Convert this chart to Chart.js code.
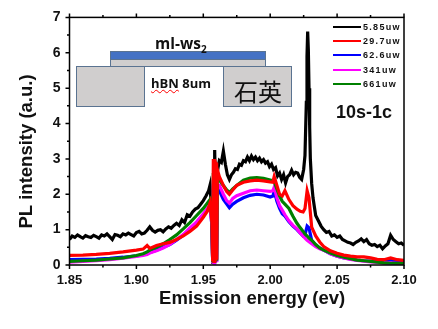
<!DOCTYPE html>
<html>
<head>
<meta charset="utf-8">
<script src="https://cdn.jsdelivr.net/npm/chart.js@4"></script>
<style>
    html, body { margin: 0; padding: 0; background: #fff; }
    #wrap { position: relative; width: 438px; height: 329px; overflow: hidden; font-family: "Liberation Sans", Arial, sans-serif; }
    #wrap canvas { position: absolute; left: 0; top: 0; }
    .block { position: absolute; box-sizing: border-box; background: #d0cece; border: 1.5px solid #5a7391; }
    .label { position: absolute; white-space: nowrap; color: #111; }
    .legend-line { position: absolute; left: 333px; width: 28px; height: 2px; }
    .legend-text { position: absolute; left: 363px; font-size: 9px; font-weight: bold; letter-spacing: 1.3px; line-height: 10px; color: #111; white-space: nowrap; }
</style>
</head>
<body>
<div id="wrap">
    <canvas id="plChart" width="438" height="329"></canvas>
    <div class="block" style="left:110px;top:51px;width:156px;height:9px;background:#4472c4;"></div>
    <div class="block" style="left:110px;top:59px;width:156px;height:8px;"></div>
    <div class="block" style="left:76px;top:66px;width:69px;height:41px;"></div>
    <div class="block" style="left:223px;top:66px;width:69px;height:41px;"></div>
    <div class="label" style="left:155px;top:32px;font:bold 15.5px 'Open Sans',sans-serif;">ml-ws<sub style="font-size:10px;line-height:0;">2</sub></div>
    <div class="label" style="left:151px;top:74px;font:bold 13px 'Open Sans',sans-serif;"><span style="text-decoration:underline wavy red 1px;">hBN</span> 8um</div>
    <div class="label" style="left:234px;top:73px;font:24px 'Noto Sans CJK SC',serif;">石英</div>
    <div class="label" style="left:336px;top:102px;font:bold 18px 'Liberation Sans',sans-serif;">10s-1c</div>
    <div id="legend"></div>
</div>
<script>
// power labels and colours, same order as the legend
const powerLabels = ['5.85uw', '29.7uw', '62.6uw', '341uw', '661uw'];
const powerColors = ['#000000', '#ff0000', '#0000ff', '#ff00ff', '#008000'];

const xTicks = [1.85, 1.90, 1.95, 2.00, 2.05, 2.10];
const yTicks = [0, 1, 2, 3, 4, 5, 6, 7];

// black curve has its own finer energy grid
const energyBlack = [
    1.85, 1.852, 1.854, 1.856, 1.858, 1.86, 1.862, 1.864, 1.866, 1.868,
    1.87, 1.872, 1.874, 1.876, 1.878, 1.88, 1.882, 1.884, 1.886, 1.888,
    1.89, 1.892, 1.894, 1.896, 1.898, 1.90, 1.902, 1.904, 1.906, 1.908,
    1.91, 1.912, 1.914, 1.916, 1.918, 1.92, 1.922, 1.924, 1.926, 1.928,
    1.93, 1.932, 1.934, 1.936, 1.938, 1.94, 1.942, 1.944, 1.946, 1.948, 1.95,
    1.952, 1.954, 1.955, 1.956, 1.9565, 1.957, 1.958, 1.9585, 1.959, 1.96,
    1.961, 1.962, 1.9635, 1.965, 1.9665, 1.968, 1.9695, 1.971, 1.9725, 1.974,
    1.9755, 1.977, 1.9785, 1.98, 1.9815, 1.983, 1.9845, 1.986, 1.9875, 1.989,
    1.9905, 1.992, 1.9935, 1.995, 1.9965, 1.998, 1.9995, 2.001, 2.0025, 2.004,
    2.0055, 2.007, 2.0085, 2.01, 2.0115, 2.013, 2.0145, 2.016, 2.0175, 2.019,
    2.0205, 2.022, 2.0235, 2.025, 2.026, 2.027, 2.0275, 2.028, 2.0285, 2.029,
    2.0295, 2.03, 2.031, 2.032, 2.033, 2.034, 2.036, 2.038, 2.04, 2.042,
    2.044, 2.046, 2.048, 2.05, 2.052, 2.054, 2.056, 2.058, 2.06, 2.062,
    2.064, 2.066, 2.068, 2.07, 2.072, 2.074, 2.076, 2.078, 2.08, 2.082,
    2.084, 2.086, 2.088, 2.09, 2.092, 2.094, 2.096, 2.098, 2.10
];
const power585 = [
    .72, .82, .78, .85, .8, .76, .83, .8, .78, .84,
    .8, .76, .85, .82, .88, .8, .72, .86, .84, .8,
    .88, .85, .9, .86, .82, .92, .95, .88, .9, .98,
    1.08, .98, .93, .98, 1.0, .94, 1.02, 1.08, 1.04, 1.12,
    1.18, 1.12, 1.28, 1.2, 1.42, 1.38, 1.5, 1.58, 1.62, 1.72, 1.82,
    1.95, 2.1, 2.25, 1.7, .9, .1, .12, 3.25, 2.3, 2.5,
    2.75, 2.95, 2.9, 3.22, 2.85, 2.55, 2.42, 2.55, 2.62, 2.72,
    2.7, 2.85, 2.82, 2.95, 2.92, 3.05, 2.95, 3.08, 2.98, 3.05,
    2.95, 3.02, 2.92, 2.98, 2.88, 2.92, 2.78, 2.85, 2.7, 2.75,
    2.52, 2.6, 2.42, 2.55, 2.32, 2.5, 2.55, 2.68, 2.55, 2.62,
    2.6, 2.48, 2.42, 2.7, 3.1, 4.6, 5.9, 6.6, 6.1, 5.0,
    3.9, 3.0, 2.3, 1.9, 1.65, 1.4, 1.25, 1.1, 1.0, .92,
    .95, .82, .85, .78, .82, .72, .68, .64, .62, .58,
    .64, .68, .74, .66, .72, .6, .56, .58, .52, .56,
    .46, .54, .6, .84, .72, .66, .6, .62, .56
];

// coarser grid shared by the other four curves
const energy = [
    1.85, 1.86, 1.87, 1.88, 1.89, 1.90, 1.905, 1.908, 1.91, 1.915,
    1.92, 1.925, 1.93, 1.935, 1.94, 1.945, 1.95, 1.953, 1.955, 1.9565,
    1.957, 1.9575, 1.958, 1.9585, 1.959, 1.9595, 1.96, 1.9605, 1.962, 1.965,
    1.9675, 1.9695, 1.972, 1.975, 1.98, 1.985, 1.99, 1.995, 2.00, 2.002,
    2.003, 2.005, 2.007, 2.009, 2.011, 2.014, 2.017, 2.02, 2.0225, 2.0246,
    2.026, 2.0276, 2.029, 2.031, 2.034, 2.037, 2.04, 2.045, 2.05, 2.055,
    2.06, 2.065, 2.07, 2.075, 2.08, 2.085, 2.09, 2.095, 2.10
];
const power297 = [
    .27, .28, .30, .33, .37, .42, .45, .55, .47, .55,
    .60, .64, .72, .82, .95, 1.10, 1.35, 1.52, 1.75, 1.2,
    .10, 3.0, .10, 3.0, .12, 2.9, .15, 2.7, 2.5, 2.25,
    2.08, 2.0, 2.12, 2.25, 2.34, 2.38, 2.4, 2.38, 2.35, 2.34,
    2.5, 2.25, 2.0, 1.95, 2.1, 1.85, 1.68, 1.58, 1.52, 1.5,
    1.6, 2.1, 1.9, 1.07, .82, .65, .52, .40, .33, .28,
    .25, .23, .23, .2, .16, .15, .2, .15, .13
];
const power626 = [
    .15, .16, .17, .19, .22, .26, .29, .32, .35, .42,
    .50, .58, .70, .84, 1.0, 1.18, 1.4, 1.55, 1.65, 1.1,
    .08, 2.3, .08, 2.3, .1, 2.2, .1, 2.15, 2.1, 1.85,
    1.72, 1.62, 1.72, 1.8, 1.9, 1.97, 2.0, 1.98, 1.92, 1.95,
    2.1, 1.8, 1.6, 1.45, 1.38, 1.22, 1.1, 1.0, .9, .82,
    .85, 1.1, 1.05, .7, .56, .48, .42, .32, .25, .2,
    .17, .14, .12, .11, .11, .1, .14, .1, .08
];
const power341 = [
    .08, .10, .12, .15, .19, .24, .27, .30, .34, .40,
    .48, .58, .72, .86, 1.05, 1.22, 1.45, 1.6, 1.7, 1.1,
    .05, 2.4, .05, 2.4, .08, 2.3, .08, 2.25, 2.25, 2.0,
    1.82, 1.75, 1.88, 1.96, 2.03, 2.1, 2.12, 2.1, 2.08, 2.1,
    2.2, 1.9, 1.68, 1.55, 1.42, 1.25, 1.12, 1.02, .9, .82,
    .76, .7, .66, .6, .52, .46, .42, .32, .25, .2,
    .16, .13, .11, .09, .07, .06, .06, .05, .05
];
const power661 = [
    .10, .12, .14, .17, .20, .27, .32, .37, .42, .50,
    .60, .72, .85, 1.02, 1.2, 1.4, 1.6, 1.75, 1.85, 1.3,
    .08, 2.6, .1, 2.6, .1, 2.5, .12, 2.4, 2.4, 2.25,
    2.12, 2.05, 2.15, 2.25, 2.4, 2.46, 2.47, 2.45, 2.4, 2.38,
    2.35, 2.15, 1.95, 1.8, 1.72, 1.6, 1.38, 1.18, 1.05, .95,
    .88, .82, .76, .70, .58, .48, .42, .34, .27, .22,
    .18, .14, .12, .10, .08, .06, .05, .05, .05
];

function toPoints(xs, ys) {
    return xs.map((x, i) => ({ x: x, y: ys[i] }));
}

// frame and the two-length ticks on all of bottom, left and top
const frameTicks = {
    id: 'frameTicks',
    afterDraw(chart) {
        const ctx = chart.ctx;
        const a = chart.chartArea;
        const xs = chart.scales.x;
        const ys = chart.scales.y;
        ctx.save();
        ctx.strokeStyle = '#000';
        ctx.lineWidth = 1.5;
        ctx.strokeRect(a.left, a.top, a.right - a.left, a.bottom - a.top);
        ctx.beginPath();
        for (let i = 0; i <= 10; i++) {
            const px = xs.getPixelForValue(1.85 + i * 0.025);
            const len = i % 2 === 0 ? 4 : 2.5;
            ctx.moveTo(px, a.bottom);
            ctx.lineTo(px, a.bottom + len);
            ctx.moveTo(px, a.top);
            ctx.lineTo(px, a.top - len);
        }
        for (let i = 0; i <= 14; i++) {
            const py = ys.getPixelForValue(i * 0.5);
            const len = i % 2 === 0 ? 4 : 2.5;
            ctx.moveTo(a.left, py);
            ctx.lineTo(a.left - len, py);
        }
        ctx.stroke();
        ctx.restore();
    }
};

const seriesData = [
    toPoints(energyBlack, power585),
    toPoints(energy, power297),
    toPoints(energy, power626),
    toPoints(energy, power341),
    toPoints(energy, power661)
];
// red on top, then green, magenta, blue, black at the back
const drawOrder = [5, 1, 4, 3, 2];

new Chart(document.getElementById('plChart'), {
    type: 'line',
    data: {
        datasets: powerLabels.map((label, i) => ({
            label: label,
            data: seriesData[i],
            borderColor: powerColors[i],
            borderWidth: 3.2,
            pointRadius: 0,
            tension: 0,
            order: drawOrder[i]
        }))
    },
    options: {
        responsive: false,
        animation: false,
        parsing: false,
        normalized: true,
        layout: { padding: { top: 16, right: 34, left: 0, bottom: 0 } },
        plugins: { legend: { display: false }, tooltip: { enabled: false } },
        scales: {
            x: {
                type: 'linear',
                min: 1.85,
                max: 2.10,
                afterBuildTicks(scale) { scale.ticks = xTicks.map(v => ({ value: v })); },
                afterFit(scale) { scale.height = 64; },
                grid: { display: false, drawTicks: false },
                border: { display: false },
                ticks: {
                    color: '#111',
                    padding: 8,
                    maxRotation: 0,
                    font: { family: 'Liberation Sans', weight: 'bold', size: 13 },
                    callback: v => v.toFixed(2)
                },
                title: {
                    display: true,
                    // the title sits right of the plot centre in the original
                    text: '\u00a0\u00a0\u00a0\u00a0\u00a0\u00a0Emission energy (ev)',
                    color: '#111',
                    padding: { top: 0, bottom: 19 },
                    font: { family: 'Liberation Sans', weight: 'bold', size: 18.5 }
                }
            },
            y: {
                min: 0,
                max: 7,
                afterBuildTicks(scale) { scale.ticks = yTicks.map(v => ({ value: v })); },
                afterFit(scale) { scale.width = 69.5; },
                grid: { display: false, drawTicks: false },
                border: { display: false },
                ticks: {
                    color: '#111',
                    padding: 9,
                    font: { family: 'Liberation Sans', weight: 'bold', size: 14 }
                },
                title: {
                    display: true,
                    text: 'PL intensity (a.u.)\u00a0\u00a0\u00a0\u00a0',
                    color: '#111',
                    padding: { top: 16, bottom: 0 },
                    font: { family: 'Liberation Sans', weight: 'bold', size: 18.5 }
                }
            }
        }
    },
    plugins: [frameTicks]
});

// legend sits inside the plot on the right
const legendTops = [27, 41, 55, 70, 84];
const legendBox = document.getElementById('legend');
powerLabels.forEach((label, i) => {
    const line = document.createElement('div');
    line.className = 'legend-line';
    line.style.top = (legendTops[i] - 1) + 'px';
    line.style.background = powerColors[i];
    legendBox.appendChild(line);
    const text = document.createElement('div');
    text.className = 'legend-text';
    text.style.top = (legendTops[i] - 5) + 'px';
    text.textContent = label;
    legendBox.appendChild(text);
});
</script>
</body>
</html>
